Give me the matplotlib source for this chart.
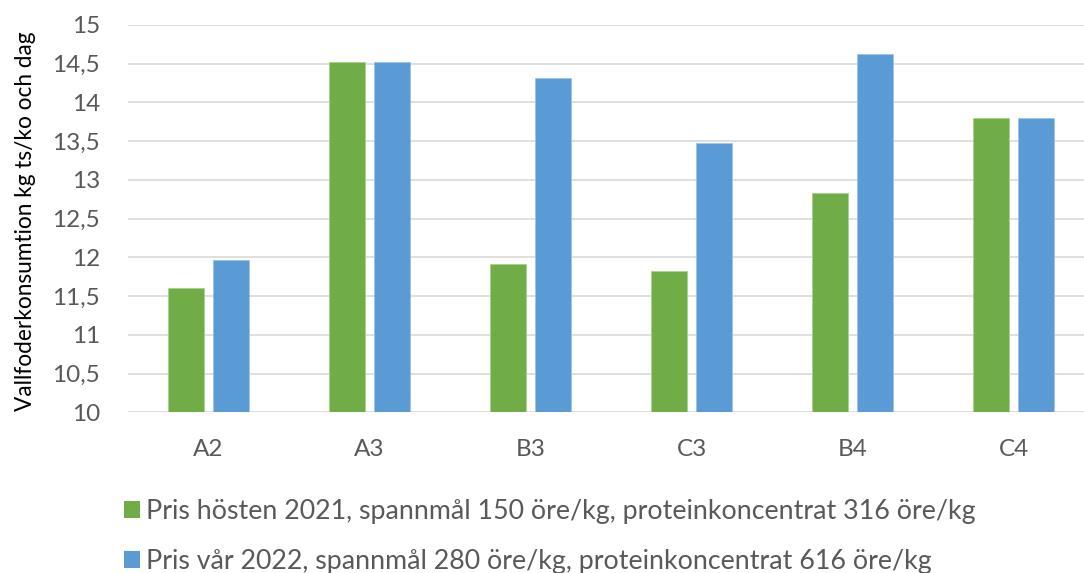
import matplotlib
matplotlib.use("Agg")
import matplotlib.pyplot as plt
import numpy as np
from matplotlib.patches import Patch

categories = ["A2", "A3", "B3", "C3", "B4", "C4"]
series_names = [
    "Pris hösten 2021, spannmål 150 öre/kg, proteinkoncentrat 316 öre/kg",
    "Pris vår 2022, spannmål 280 öre/kg, proteinkoncentrat 616 öre/kg",
]
green_vals = [11.60, 14.52, 11.91, 11.82, 12.83, 13.80]
blue_vals = [11.96, 14.52, 14.31, 13.48, 14.63, 13.80]
y_ticks = [10, 10.5, 11, 11.5, 12, 12.5, 13, 13.5, 14, 14.5, 15]
y_ticklabels = ["10", "10,5", "11", "11,5", "12", "12,5", "13", "13,5", "14", "14,5", "15"]
y_label = "Vallfoderkonsumtion kg ts/ko och dag"

GREEN = "#70AD47"
BLUE = "#5B9BD5"
TXT = "#595959"
GRID = "#D9D9D9"

plt.rcParams["font.family"] = ["Lato", "DejaVu Sans"]

W, H = 1084, 573
fig = plt.figure(figsize=(W / 100, H / 100), dpi=100)
left, right = 128, 1084
top, bottom = 25, 412.3
ax = fig.add_axes([left / W, 1 - bottom / H, (right - left) / W, (bottom - top) / H])

x = np.arange(len(categories))
bw = 0.224
off = 0.142
ax.bar(x - off, green_vals, width=bw, color=GREEN, edgecolor="#A9D18E", linewidth=0.6, zorder=3)
ax.bar(x + off, blue_vals, width=bw, color=BLUE, edgecolor="#9DC3E6", linewidth=0.6, zorder=3)

ax.set_ylim(10, 15)
cat_px = 161.0
ax.set_xlim(-0.5, -0.5 + (right - left) / cat_px)
ax.set_yticks(y_ticks)
ax.set_yticklabels(y_ticklabels)
ax.set_xticks(x)
ax.set_xticklabels(categories)
ax.yaxis.grid(True, color=GRID, linewidth=1.2, zorder=0)
ax.set_axisbelow(True)
for s in ax.spines.values():
    s.set_visible(False)
ax.tick_params(axis="both", length=0, labelsize=17.5, colors=TXT)
ax.tick_params(axis="y", pad=20)
ax.tick_params(axis="x", pad=19)

fig.text(26 / W, 1 - 221.5 / H, y_label, rotation=90, ha="center", va="center",
         fontsize=16.3, color="black")

handles = [Patch(facecolor=GREEN, edgecolor="none"), Patch(facecolor=BLUE, edgecolor="none")]
leg = fig.legend(handles, series_names, loc="center left", bbox_to_anchor=(124 / W, 1 - 536.5 / H),
                 ncol=1, frameon=False, fontsize=19.3, handlelength=0.6, handleheight=0.6,
                 handletextpad=0.22, labelspacing=0.9, borderaxespad=0, borderpad=0)
for t in leg.get_texts():
    t.set_color(TXT)

fig.savefig("out.png", dpi=100)
